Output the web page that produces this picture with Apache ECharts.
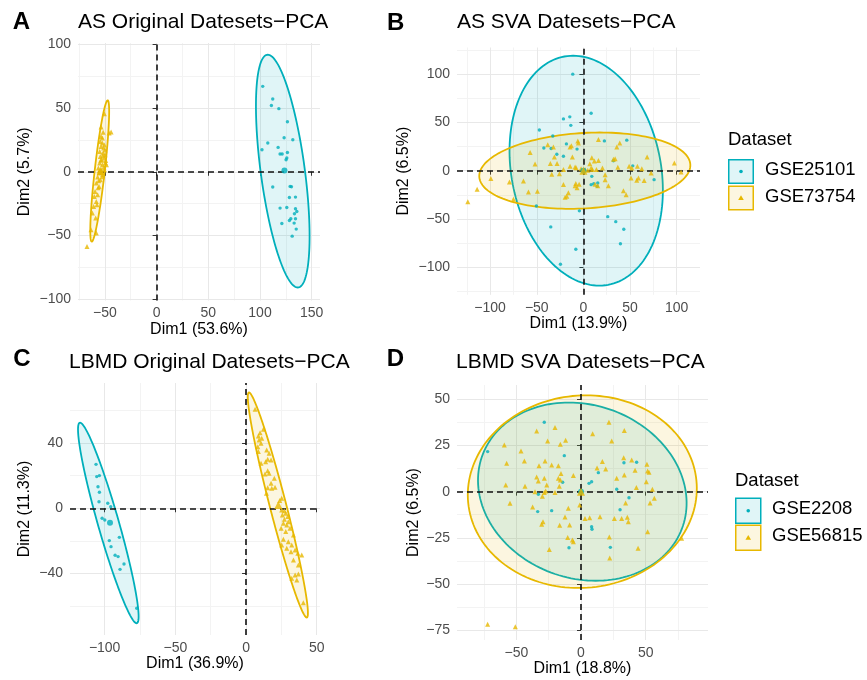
<!DOCTYPE html>
<html><head><meta charset="utf-8">
<script src="https://cdn.jsdelivr.net/npm/echarts@6/dist/echarts.min.js"></script>
<style>html,body{margin:0;padding:0;background:#fff}#c{width:867px;height:680px}</style>
</head><body><div id="c"></div>
<script>
// ---------- DATA ----------
const colCyan = '#00AFBB', colYellow = '#E7B800';
const legendB = ['GSE25101', 'GSE73754'];
const legendD = ['GSE2208', 'GSE56815'];
const titles = ['AS Original Datesets\u2212PCA', 'AS SVA Datesets\u2212PCA', 'LBMD Original Datesets\u2212PCA', 'LBMD SVA Datesets\u2212PCA'];
const letters = ['A', 'B', 'C', 'D'];
const xNames = ['Dim1 (53.6%)', 'Dim1 (13.9%)', 'Dim1 (36.9%)', 'Dim1 (18.8%)'];
const yNames = ['Dim2 (5.7%)', 'Dim2 (6.5%)', 'Dim2 (11.3%)', 'Dim2 (6.5%)'];

// tick values
const xTicksA = [-50, 0, 50, 100, 150], yTicksA = [-100, -50, 0, 50, 100];
const xTicksB = [-100, -50, 0, 50, 100], yTicksB = [-100, -50, 0, 50, 100];
const xTicksC = [-100, -50, 0, 50], yTicksC = [-40, 0, 40];
const xTicksD = [-50, 0, 50], yTicksD = [-75, -50, -25, 0, 25, 50];
// axis limits
const xLimA = [-76, 158], yLimA = [-101, 101];
const xLimB = [-135.5, 125], yLimB = [-128.5, 127.5];
const xLimC = [-124.5, 52.3], yLimC = [-77.6, 76.7];
const xLimD = [-95.9, 98.2], yLimD = [-80.4, 57.8];

// Panel A points
const aCyan = [[102.6,67.0],[112.3,57.1],[111.0,52.0],[118.2,49.5],[126.5,39.2],[123.3,26.7],[131.7,25.1],[107.5,22.5],[117.5,19.1],[119.4,13.9],[121.4,13.9],[126.5,15.1],[125.9,10.8],[125.2,9.4],[101.9,17.3],[112.3,-12.0],[129.1,-11.5],[130.4,-11.8],[128.4,-20.2],[134.3,-19.9],[119.4,-28.5],[125.9,-28.0],[134.3,-29.0],[135.6,-31.2],[133.3,-33.0],[129.8,-36.9],[128.4,-38.2],[134.3,-36.9],[121.1,-40.6],[133.0,-40.3],[135.0,-45.0],[131.1,-50.5]];
const aYellow = [[-50.5,45.5],[-53.7,35.1],[-44.0,31.2],[-45.9,30.4],[-51.7,30.9],[-53.7,27.7],[-52.4,26.4],[-54.4,23.8],[-52.4,22.5],[-53.7,19.9],[-51.2,18.6],[-55.0,15.9],[-51.7,14.7],[-49.8,13.3],[-54.4,12.0],[-50.5,10.7],[-53.1,9.4],[-49.2,8.9],[-55.0,6.8],[-52.4,5.5],[-48.5,5.5],[-56.3,2.9],[-53.7,1.6],[-50.5,1.6],[-55.6,-1.0],[-52.4,-2.4],[-57.0,-4.2],[-54.4,-6.3],[-58.3,-8.9],[-55.6,-11.5],[-59.5,-15.5],[-57.0,-18.1],[-60.2,-19.4],[-58.3,-23.3],[-60.9,-27.2],[-57.6,-25.9],[-62.1,-32.4],[-58.9,-36.3],[-63.4,-45.5],[-58.3,-48.1],[-67.3,-58.6],[-51.0,3.5],[-53.0,-0.5],[-49.5,7.0],[-52.0,12.5],[-50.0,17.0],[-54.0,9.0],[-56.0,-7.0],[-50.5,21.0],[-52.5,-4.0],[-55.5,0.5],[-56.5,-12.5]];
// Panel B points
const bCyan = [[-11.4,99.9],[-21.4,53.6],[-14.6,55.7],[-13.5,46.9],[-47.2,42.1],[-32.8,35.9],[-42.4,23.5],[-34.6,22.9],[-28.5,17.0],[-21.4,15.0],[-18.2,27.7],[-50.4,-36.5],[-35.0,-58.2],[-8.1,-81.3],[-24.6,-96.8],[-4.3,-41.6],[8.3,59.5],[22.5,30.8],[46.5,31.6],[32.2,10.2],[52.9,5.0],[75.8,-9.3],[9.0,-5.9],[8.3,-14.5],[11.1,-13.5],[14.7,-16.3],[15.4,-12.7],[26.1,-47.6],[34.7,-52.8],[43.3,-60.7],[39.7,-75.6],[-6.8,22.3]];
const bYellow = [[-123.9,-32.3],[-113.9,-19.2],[-99.2,-8.0],[-79.3,-11.8],[-75.0,-29.7],[-64.3,-10.8],[-58.9,-22.0],[-49.3,-21.3],[-57.1,18.9],[-51.8,6.9],[-38.2,26.8],[-32.2,24.4],[-31.1,14.2],[-35.4,7.3],[-28.2,7.3],[-33.9,-3.8],[-25.7,-3.1],[-21.4,1.3],[-14.3,24.4],[-12.9,25.7],[-11.8,14.2],[-14.3,4.6],[-7.8,3.0],[-5.4,28.7],[-21.4,-14.3],[-8.1,-13.3],[-6.8,-17.7],[-16.1,-22.9],[-17.8,-26.4],[-19.6,-27.4],[-6.0,30.8],[16.1,32.2],[35.8,24.4],[39.0,28.7],[68.3,14.2],[97.5,7.9],[104.7,-1.4],[9.0,13.3],[6.9,7.2],[11.8,10.0],[16.1,10.4],[32.2,11.7],[34.0,12.4],[8.3,2.8],[9.6,1.3],[14.0,1.3],[20.4,2.8],[36.9,3.6],[49.0,4.6],[51.9,2.8],[57.9,4.6],[62.6,1.9],[72.6,-2.4],[23.3,-4.1],[23.3,-9.3],[51.1,-7.6],[59.0,-7.6],[57.2,-10.0],[65.1,-10.3],[26.8,-15.7],[12.5,-14.0],[15.4,-15.7],[42.9,-20.8],[45.8,-24.9],[-8.9,-15.7],[-4.6,-14.0],[-8.9,3.9],[-2.5,1.9],[1.8,1.1],[4.7,0.4]];
// Panel C points
const cCyan = [[-106.1,26.9],[-105.6,19.4],[-103.7,20.0],[-104.7,13.2],[-103.7,9.8],[-104.0,4.0],[-97.8,3.1],[-95.7,1.0],[-101.8,-6.1],[-99.9,-7.2],[-96.7,-19.8],[-89.6,-17.8],[-95.5,-23.5],[-92.6,-28.8],[-90.5,-29.6],[-86.3,-34.1],[-89.1,-37.4],[-77.3,-61.2]];
const cYellow = [[6.4,60.6],[12.3,48.4],[9.9,46.3],[8.7,44.3],[11.1,42.9],[9.2,41.8],[10.6,39.8],[8.3,37.7],[14.6,35.7],[16.3,33.7],[15.3,30.0],[17.7,29.6],[13.9,28.5],[8.7,34.7],[10.6,27.6],[15.3,23.0],[13.4,21.0],[16.3,21.4],[20.0,18.4],[17.7,15.3],[20.5,12.9],[15.3,12.6],[18.2,12.2],[14.4,9.2],[25.2,6.1],[23.8,4.7],[25.2,-1.0],[27.1,-1.5],[28.1,-3.1],[25.7,-4.1],[29.5,-5.1],[27.1,-6.7],[29.9,-8.2],[26.4,-9.2],[28.8,-10.2],[24.8,-12.2],[31.1,-12.2],[28.1,-14.3],[33.5,-16.4],[26.4,-19.0],[29.9,-20.5],[25.2,-22.5],[32.3,-22.5],[28.8,-24.5],[34.7,-25.5],[31.8,-26.6],[36.6,-27.6],[39.4,-28.6],[33.5,-31.7],[37.0,-34.7],[34.7,-40.8],[37.0,-40.2],[32.3,-42.9],[35.9,-43.9],[40.5,-57.8]];
// Panel D points
const dCyan = [[-72.2,21.7],[-28.4,37.6],[-12.9,19.5],[-14.2,5.1],[-33.0,-1.4],[-33.5,-10.8],[-22.7,-10.3],[-9.3,-30.4],[6.2,4.5],[8.2,5.4],[13.4,10.3],[27.6,1.3],[33.2,15.7],[43.0,15.9],[37.1,-3.3],[30.2,-9.8],[8.2,-19.0],[8.5,-20.4],[22.7,-30.2]];
const dYellow = [[-59.3,25.3],[-34.3,32.9],[-20.1,34.7],[-25.8,27.5],[-11.9,27.8],[-16.0,25.7],[-46.4,22.0],[-57.5,15.4],[-43.8,16.6],[-27.8,16.6],[-32.5,14.1],[-22.7,14.5],[-17.5,14.1],[-15.5,9.9],[-34.3,7.9],[-33.0,5.8],[-28.4,7.2],[-17.5,7.2],[-16.0,6.3],[-5.9,8.7],[-58.2,3.6],[-43.3,2.9],[-26.5,3.6],[-16.8,2.9],[-35.6,0],[-28.4,-0.4],[-27.3,0.4],[-29.9,-2.5],[-20.1,-0.4],[-54.9,-6.3],[-37.4,-8.3],[-29.4,-16.3],[-30.4,-17.7],[-12.4,-13.7],[-9.8,-9.0],[-1.0,-7.2],[-16.5,-18.2],[-8.8,-18.1],[-10.3,-24.9],[-6.7,-26.2],[-5.9,-27.1],[-24.5,-31.3],[3.1,-14.5],[6.7,-14.1],[14.7,-13.6],[21.6,37.6],[33.5,33.2],[9.0,31.4],[23.7,27.5],[16.5,16.3],[12.4,12.8],[19.1,12.3],[33.0,18.4],[39.2,17.2],[51.0,14.8],[41.8,11.6],[51.5,11.2],[52.6,10.5],[33.5,9.0],[27.6,7.2],[50.5,5.4],[42.8,2.2],[55.2,1.3],[56.7,-3.6],[53.4,-6.1],[34.5,-6.1],[25.8,-14.5],[31.4,-14.5],[35.8,-13.9],[36.6,-16.3],[21.9,-24.6],[22.2,-36.0],[51.5,-21.7],[44.1,-30.7],[77.8,-25.3],[-72.2,-71.9],[-50.8,-73.2]];

// group mean points [cyan, yellow]
const meansA = [[123.6, 1.0], [-54.0, 0.5]];
const meansB = [[0, 0], [0, 0]];
const meansC = [[-96.2, -8.8], [22.8, 2.0]];
const meansD = [[0, 0], [0, 0]];

// confidence ellipses: [centerX, centerY, topOffsetX, topOffsetY, halfWidthAtCenter]
const ellA = [[122, 0.5, -14.5, 91.3, 21.5], [-55, 0.6, 7.7, 55.4, 4.9]];
const ellB = [[3, 0, -14, 119, 81], [1.5, 0, 16, 39.5, 112]];
const ellC = [[-97.4, -9, -20, 61.4, 7.7], [22.5, 2, -20.4, 68.9, 6]];
const ellD = [[1, 0, -10.3, 48.3, 80], [1, 0, 3, 52.2, 88.5]];

// ---------- LAYOUT ----------
const FONT = 'Liberation Sans, Arial, sans-serif';
const grids = [
  {left: 78, top: 43, width: 242, height: 257.5},
  {left: 457, top: 47.5, width: 243, height: 247.3},
  {left: 70, top: 383, width: 250, height: 252},
  {left: 457, top: 385, width: 251, height: 255}
];
const panels = [
  {xt: xTicksA, yt: yTicksA, xl: xLimA, yl: yLimA, cy: aCyan, ye: aYellow, m: meansA, e: ellA, xg: 16, yg: 45},
  {xt: xTicksB, yt: yTicksB, xl: xLimB, yl: yLimB, cy: bCyan, ye: bYellow, m: meansB, e: ellB, xg: 20, yg: 45},
  {xt: xTicksC, yt: yTicksC, xl: xLimC, yl: yLimC, cy: cCyan, ye: cYellow, m: meansC, e: ellC, xg: 21, yg: 37},
  {xt: xTicksD, yt: yTicksD, xl: xLimD, yl: yLimD, cy: dCyan, ye: dYellow, m: meansD, e: ellD, xg: 17.5, yg: 35}
];
const minus = v => (v < 0 ? '\u2212' + Math.abs(v) : String(v));
function minorOf(t) {
  const step = t[1] - t[0], r = [];
  for (let i = -1; i < t.length; i++) r.push(t[0] + step * i + step / 2);
  return r;
}
function axis(i, isX, p) {
  const ticks = isX ? p.xt : p.yt, lim = isX ? p.xl : p.yl;
  return {
    type: 'value', gridIndex: i, min: lim[0], max: lim[1],
    name: isX ? xNames[i] : yNames[i], nameLocation: 'middle', nameGap: isX ? p.xg : p.yg,
    nameTextStyle: {fontFamily: FONT, fontSize: 16, color: '#000'},
    axisLine: {show: false},
    splitLine: {show: false},
    axisTick: {show: true, customValues: ticks, length: 4, lineStyle: {color: '#333', width: 1}},
    axisLabel: {show: true, customValues: ticks, formatter: minus, fontFamily: FONT, fontSize: 14, color: '#4D4D4D', margin: isX ? 6 : 7}
  };
}
const xAxis = [], yAxis = [], series = [];
const rgba = (c, a) => c === colCyan ? `rgba(0,175,187,${a})` : `rgba(231,184,0,${a})`;
panels.forEach((p, i) => {
  xAxis.push(axis(i, true, p));
  yAxis.push(axis(i, false, p));
  const inRange = (v, l) => v > l[0] && v < l[1];
  const gl = (vals, key, lim, color) => vals.filter(v => inRange(v, lim)).map(v => ({[key]: v, lineStyle: {color}}));
  // grid lines
  series.push({
    type: 'scatter', xAxisIndex: i, yAxisIndex: i, data: [], z: 0, silent: true,
    markLine: {
      z: 0, silent: true, symbol: ['none', 'none'], label: {show: false}, animation: false,
      lineStyle: {type: 'solid', width: 1},
      data: [].concat(
        gl(minorOf(p.xt), 'xAxis', p.xl, '#F3F3F3'), gl(minorOf(p.yt), 'yAxis', p.yl, '#F3F3F3'),
        gl(p.xt, 'xAxis', p.xl, '#E8E8E8'), gl(p.yt, 'yAxis', p.yl, '#E8E8E8'))
    }
  });
  // ellipses
  [colCyan, colYellow].forEach((col, k) => {
    series.push({
      type: 'custom', xAxisIndex: i, yAxisIndex: i, z: 1, silent: true, clip: false,
      data: [p.e[k]], encode: {x: 0, y: 1},
      renderItem: (params, api) => {
        const cx = api.value(0), cy = api.value(1), ux = api.value(2), uy = api.value(3), vx = api.value(4);
        const pts = [];
        for (let j = 0; j <= 160; j++) {
          const t = 2 * Math.PI * j / 160;
          pts.push(api.coord([cx + ux * Math.cos(t) + vx * Math.sin(t), cy + uy * Math.cos(t)]));
        }
        return {type: 'polygon', shape: {points: pts}, style: {fill: rgba(col, 0.12), stroke: col, lineWidth: 1.8}};
      }
    });
  });
  // zero lines
  series.push({
    type: 'scatter', xAxisIndex: i, yAxisIndex: i, data: [], z: 2, silent: true,
    markLine: {z: 2, silent: true, symbol: ['none', 'none'], label: {show: false}, animation: false,
      lineStyle: {type: [6, 4], width: 1.6, color: '#111'}, data: [{xAxis: 0}, {yAxis: 0}]}
  });
  // points
  series.push({type: 'scatter', xAxisIndex: i, yAxisIndex: i, z: 3, data: p.cy, symbol: 'circle', symbolSize: 3.4, itemStyle: {color: colCyan}, silent: true});
  series.push({type: 'scatter', xAxisIndex: i, yAxisIndex: i, z: 3, data: p.ye, symbol: 'triangle', symbolSize: 5, itemStyle: {color: colYellow}, silent: true});
  series.push({type: 'scatter', xAxisIndex: i, yAxisIndex: i, z: 4, data: [p.m[0]], symbol: 'circle', symbolSize: 6, itemStyle: {color: colCyan}, silent: true});
  series.push({type: 'scatter', xAxisIndex: i, yAxisIndex: i, z: 4, data: [p.m[1]], symbol: 'triangle', symbolSize: 8, itemStyle: {color: colYellow}, silent: true});
});

// ---------- TEXT / LEGENDS ----------
const titlePos = [[78, 24, 12.7, 24.7], [457, 24.2, 387, 25], [69, 364.2, 13.3, 361], [456, 364.2, 386.7, 361]];
const graphic = [];
titlePos.forEach((t, i) => {
  graphic.push({type: 'text', left: t[0], top: t[1] - 12.5, style: {text: titles[i], font: `21px ${FONT}`, fill: '#000'}});
  graphic.push({type: 'text', left: t[2], top: t[3] - 14, style: {text: letters[i], font: `bold 24px ${FONT}`, fill: '#000'}});
});
function legend(x, yTitle, yBox1, yBox2, w, h, names, textX) {
  graphic.push({type: 'text', left: x, top: yTitle - 11, style: {text: 'Dataset', font: `18.5px ${FONT}`, fill: '#000'}});
  [yBox1, yBox2].forEach((yb, k) => {
    const col = k === 0 ? colCyan : colYellow;
    graphic.push({type: 'rect', shape: {x: x + 0.75, y: yb + 0.75, width: w - 1.5, height: h - 1.5}, style: {fill: rgba(col, 0.12), stroke: col, lineWidth: 1.5}});
    const cx = x + w / 2, cy = yb + h / 2;
    if (k === 0) graphic.push({type: 'circle', shape: {cx, cy, r: 1.8}, style: {fill: col}});
    else graphic.push({type: 'polygon', shape: {points: [[cx, cy - 2.8], [cx + 2.8, cy + 2], [cx - 2.8, cy + 2]]}, style: {fill: col}});
    graphic.push({type: 'text', left: textX, top: cy - 11, style: {text: names[k], font: `18.5px ${FONT}`, fill: '#000'}});
  });
}
legend(728, 141, 159, 185.5, 26, 25, legendB, 765);
legend(735, 482, 497.5, 524.5, 26.5, 26.5, legendD, 772);

const chart = echarts.init(document.getElementById('c'), null, {renderer: 'canvas'});
chart.setOption({
  animation: false,
  backgroundColor: '#fff',
  grid: grids,
  xAxis, yAxis, series, graphic
});
</script></body></html>
